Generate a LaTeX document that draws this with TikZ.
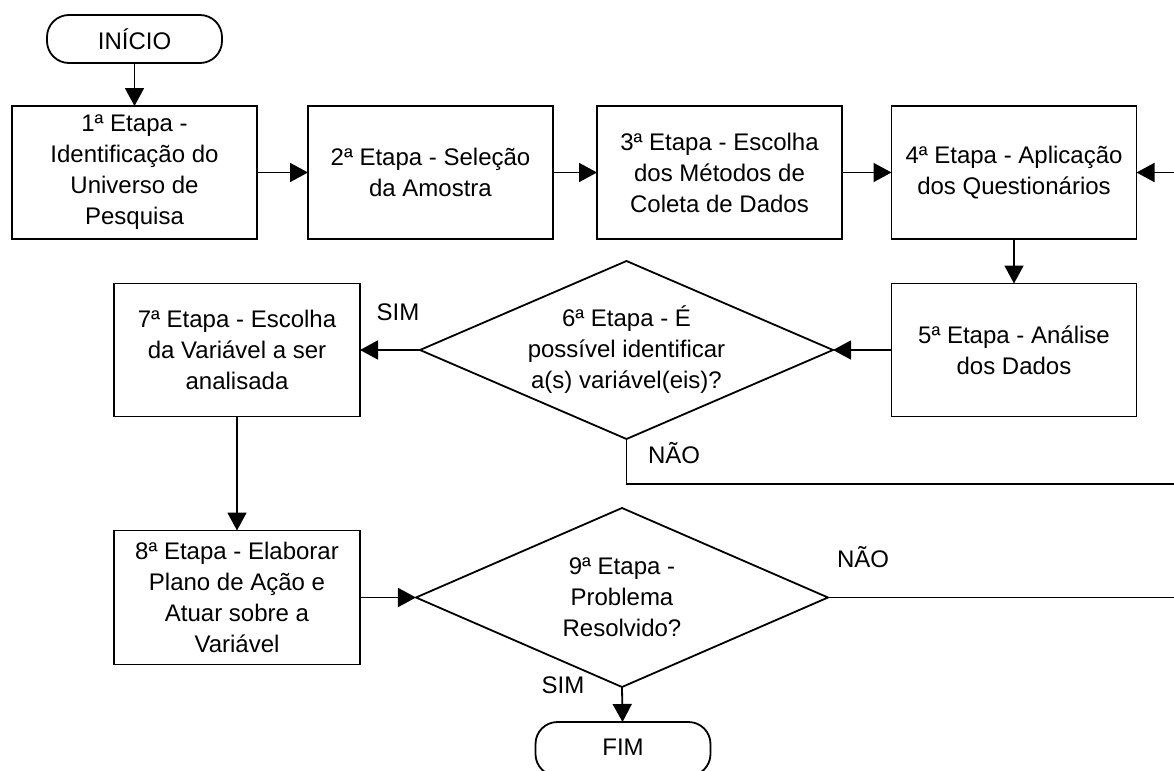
\documentclass[tikz,border=0pt]{standalone}
\usepackage{fontspec}
\setmainfont{Liberation Sans}
\usetikzlibrary{shapes.geometric,arrows.meta}

\begin{document}
\begin{tikzpicture}[x=0.5pt,y=-0.5pt,
  every node/.style={font=\fontsize{12}{15.5}\selectfont, align=center, inner sep=0pt, outer sep=0pt},
  stepbox/.style={draw, line width=0.9pt, minimum width=122.5pt, minimum height=66.5pt},
  terminal/.style={draw, line width=0.9pt, rounded corners=11pt, minimum width=87.5pt, minimum height=24pt},
  decision/.style={draw, line width=0.9pt, diamond, shape aspect=2.3, minimum width=206.5pt, minimum height=89pt},
  flow/.style={line width=0.9pt, -{Triangle[length=9pt,width=9.5pt]}},
  plain/.style={line width=0.9pt},
  lbl/.style={anchor=base}]
\useasboundingbox (0,0) rectangle (1174,771);

% start and end
\node[terminal] (ini) at (134.5,39) {INÍCIO};
\node[terminal, minimum height=27pt] (fim) at (623,749) {\raisebox{1.5pt}{FIM}};

% first row of steps
\node[stepbox] (b1) at (134.5,172.5) {1ª Etapa -\\Identificação do\\Universo de\\Pesquisa};
\node[stepbox] (b2) at (430.5,172.5) {2ª Etapa - Seleção\\da Amostra};
\node[stepbox] (b3) at (719.5,172.5) {3ª Etapa - Escolha\\dos Métodos de\\Coleta de Dados};
\node[stepbox] (b4) at (1014,172.5) {4ª Etapa - Aplicação\\dos Questionários};

% second row
\node[stepbox] (b5) at (1014,350) {5ª Etapa - Análise\\dos Dados};
\node[decision] (d6) at (626.5,350) {6ª Etapa - É\\possível identificar\\a(s) variável(eis)?};
\node[stepbox, minimum width=123pt] (b7) at (237,350) {7ª Etapa - Escolha\\da Variável a ser\\analisada};

% third row
\node[stepbox, minimum width=123pt, minimum height=67pt] (b8) at (237,597.5) {8ª Etapa - Elaborar\\Plano de Ação e\\Atuar sobre a\\Variável};
\node[decision, minimum width=206pt, minimum height=89.5pt] (d9) at (622,597.5) {9ª Etapa -\\Problema\\Resolvido?};

% loose ends at the right margin
\coordinate (r4) at (1174,172.5);
\coordinate (r6) at (1174,484);
\coordinate (r9) at (1174,597.5);

% connectors
\draw[flow] (ini) -- (b1);
\draw[flow] (b1) -- (b2);
\draw[flow] (b2) -- (b3);
\draw[flow] (b3) -- (b4);
\draw[flow] (r4) -- (b4);
\draw[flow] (b4) -- (b5);
\draw[flow] (b5) -- (d6);
\draw[flow] (d6) -- (b7);
\draw[plain] (d6.south) -- (d6.south |- r6) -- (r6);
\draw[flow] (b7) -- (b8);
\draw[flow] (b8) -- (d9);
\draw[plain] (d9.east) -- (r9);
\draw[flow] (d9.south) -- (fim);

% branch labels
\node[lbl] (sim6) at (398,320) {SIM};
\node[lbl] (nao6) at (674,463) {NÃO};
\node[lbl] (nao9) at (863,567) {NÃO};
\node[lbl] (sim9) at (563,693) {SIM};
\end{tikzpicture}
\end{document}
